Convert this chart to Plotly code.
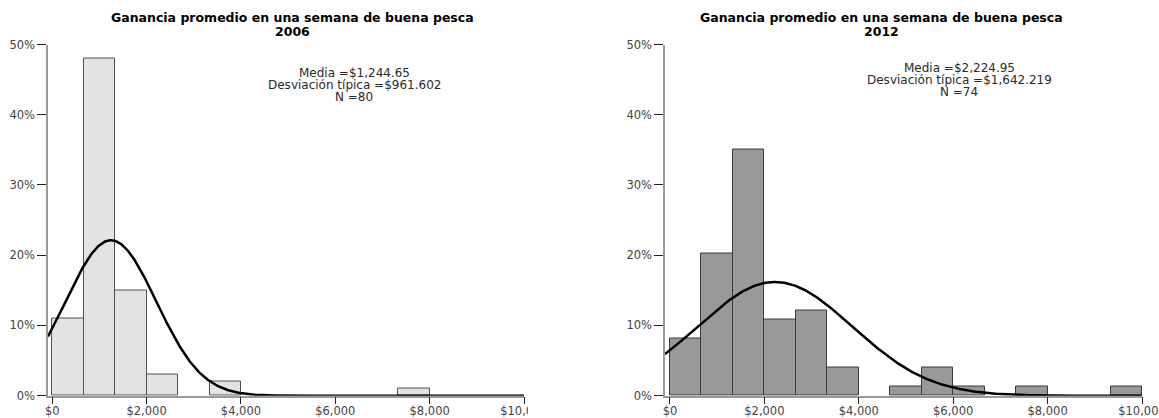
import numpy as np
import plotly.graph_objects as go

W, H = 1159, 418

# Histogram bins (width $666.67, 15 bins over $0-$10,000); only non-empty bins listed
bin_width = 10000 / 15
bins_2006_start = [0, 666.67, 1333.33, 2000, 3333.33, 7333.33]
counts_2006 = [11, 48, 15, 3, 2, 1]

bins_2012_start = [0, 666.67, 1333.33, 2000, 2666.67, 3333.33, 4666.67, 5333.33, 6000, 7333.33, 9333.33]
pct_2012 = [8.1, 20.3, 35.1, 10.8, 12.2, 4.05, 1.35, 4.05, 1.35, 1.35, 1.35]

# Summary statistics
mean_2006, sd_2006, n_2006 = 1244.65, 961.602, 80
mean_2012, sd_2012, n_2012 = 2224.95, 1642.219, 74

x_tickvals = [0, 2000, 4000, 6000, 8000, 10000]
x_ticktext = ["$0", "$2,000", "$4,000", "$6,000", "$8,000", "$10,000"]
y_tickvals = [0, 10, 20, 30, 40, 50]
y_ticktext = ["0%", "10%", "20%", "30%", "40%", "50%"]

FONT = "DejaVu Sans"


def normal_curve(mean, sd, scale, x0, x1):
    xs = np.linspace(x0, x1, 600)
    ys = scale * bin_width * np.exp(-0.5 * ((xs - mean) / sd) ** 2) / (sd * np.sqrt(2 * np.pi))
    return xs, ys


fig = go.Figure()

# 2006 panel
fig.add_trace(go.Bar(
    x=bins_2006_start, y=counts_2006, width=bin_width, offset=0,
    marker=dict(color="#e3e3e3", line=dict(color="#505050", width=1)),
    xaxis="x", yaxis="y", showlegend=False, hoverinfo="skip",
))
cx, cy = normal_curve(mean_2006, sd_2006, n_2006, -90, 10000)
fig.add_trace(go.Scatter(
    x=cx, y=cy, mode="lines", line=dict(color="#000000", width=2.5),
    xaxis="x", yaxis="y", showlegend=False, hoverinfo="skip",
))

# 2012 panel
fig.add_trace(go.Bar(
    x=bins_2012_start, y=pct_2012, width=bin_width, offset=0,
    marker=dict(color="#999999", line=dict(color="#3a3a3a", width=1)),
    xaxis="x2", yaxis="y2", showlegend=False, hoverinfo="skip",
))
cx2, cy2 = normal_curve(mean_2012, sd_2012, 100, -105, 10000)
fig.add_trace(go.Scatter(
    x=cx2, y=cy2, mode="lines", line=dict(color="#000000", width=2.5),
    xaxis="x2", yaxis="y2", showlegend=False, hoverinfo="skip",
))

tick_font = dict(family=FONT, size=11.5, color="#444444")

xaxis_common = dict(
    tickvals=x_tickvals, ticktext=x_ticktext, tickfont=tick_font,
    ticks="outside", ticklen=7, tickcolor="#222222", tickwidth=1,
    ticklabelstandoff=-3,
    showline=True, linecolor="#9a9a9a", linewidth=1.5,
    showgrid=False, zeroline=False, fixedrange=True,
    automargin=False, ticklabeloverflow="allow",
)
yaxis_common = dict(
    range=[0, 50], tickvals=y_tickvals, ticktext=y_ticktext, tickfont=tick_font,
    ticks="outside", ticklen=9, tickcolor="#222222", tickwidth=1,
    showline=True, linecolor="#9a9a9a", linewidth=1.5,
    showgrid=False, zeroline=False, fixedrange=True,
    automargin=False,
)

y_dom = [(H - 395.7) / H, (H - 44.5) / H]

fig.update_layout(
    width=W, height=H,
    margin=dict(l=0, r=0, t=0, b=0, autoexpand=False),
    paper_bgcolor="white", plot_bgcolor="white",
    bargap=0,
    xaxis=dict(domain=[48 / W, 524 / W], range=[-90, 10000], anchor="y", **xaxis_common),
    yaxis=dict(domain=y_dom, anchor="x", **yaxis_common),
    xaxis2=dict(domain=[665 / W, 1142 / W], range=[-105, 10000], anchor="y2", **xaxis_common),
    yaxis2=dict(domain=y_dom, anchor="x2", **yaxis_common),
)


def px_annot(text, x, y, size, weight="normal", color="#111111"):
    fig.add_annotation(
        text=text, xref="paper", yref="paper", x=x / W, y=1 - y / H,
        xanchor="center", yanchor="middle", showarrow=False,
        font=dict(family=FONT, size=size, color=color, weight=weight),
    )


title = "Ganancia promedio en una semana de buena pesca"

# Panel titles
px_annot(title, 292, 17, 12.5, "bold", "#000000")
px_annot("2006", 292, 31, 12.5, "bold", "#000000")
px_annot(title, 882, 17, 12.5, "bold", "#000000")
px_annot("2012", 882, 31, 12.5, "bold", "#000000")

# Summary statistics boxes
px_annot(f"Media =${mean_2006:,.2f}", 354, 73, 12, "normal", "#2a2a2a")
px_annot(f"Desviación típica =${sd_2006:,.3f}", 354, 85, 12, "normal", "#2a2a2a")
px_annot(f"N ={n_2006}", 354, 97, 12, "normal", "#2a2a2a")

px_annot(f"Media =${mean_2012:,.2f}", 959, 68, 12, "normal", "#2a2a2a")
px_annot(f"Desviación típica =${sd_2012:,.3f}", 959, 80, 12, "normal", "#2a2a2a")
px_annot(f"N ={n_2012}", 959, 92, 12, "normal", "#2a2a2a")

# The left panel's canvas ends just past its last tick label
fig.add_shape(
    type="rect", xref="paper", yref="paper",
    x0=528 / W, x1=600 / W, y0=0, y1=(H - 400) / H,
    fillcolor="white", line=dict(width=0), layer="above",
)

fig.write_html("out.html")
